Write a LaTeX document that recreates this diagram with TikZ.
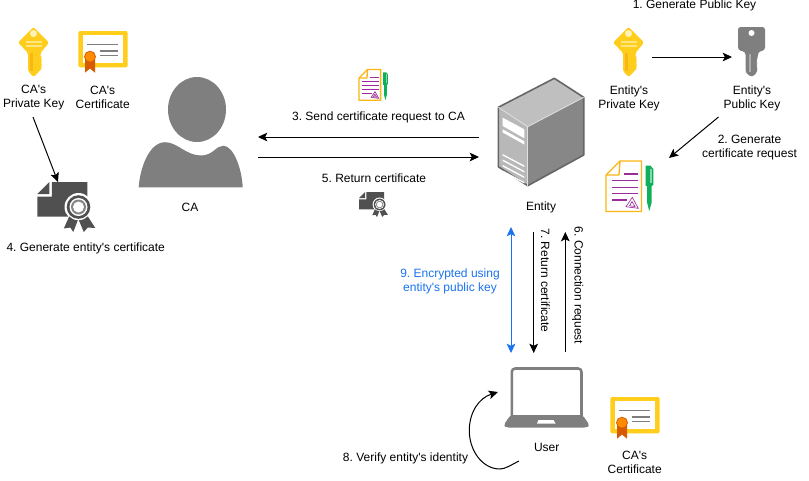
\documentclass[tikz,border=0pt]{standalone}
\usepackage{fontspec}
\setmainfont{Liberation Sans}[Ligatures=TeXOff]
\usetikzlibrary{arrows.meta}
\definecolor{gold}{HTML}{FFCD1C}
\definecolor{goldline}{HTML}{FBB514}
\definecolor{goldpale}{HTML}{FFE680}
\definecolor{goldhole}{HTML}{FFF3B8}
\definecolor{orangeseal}{HTML}{FF8C00}
\definecolor{orangerib}{HTML}{D65A00}
\definecolor{grayicon}{HTML}{7F7F7F}
\definecolor{darkicon}{HTML}{505050}
\definecolor{purpleln}{HTML}{9B2D9B}
\definecolor{greenpen}{HTML}{0FB05A}
\definecolor{blueln}{HTML}{1A73F0}
\tikzset{
  x=0.75pt,y=-0.75pt,
  lbl/.style={font=\fontsize{9}{10.5}\selectfont\frenchspacing,align=center,inner sep=0pt,text=black},
  bluelbl/.style={lbl,text=blueln},
  conn/.style={draw=black,line width=0.75pt,-{Stealth[length=7pt,width=6.5pt,inset=1.6pt]}},
  bluearrow/.style={draw=blueln,line width=0.75pt,{Stealth[length=7pt,width=6.5pt,inset=1.6pt]}-{Stealth[length=7pt,width=6.5pt,inset=1.6pt]}},
  goldkey/.pic={
    \fill[gold,rounded corners=1.2pt] (15.5,0) -- (31,15.5) -- (22.5,26) -- (22.5,30) -- (24.5,32) -- (22.5,34) -- (24.5,36) -- (22.5,38) -- (24.5,40.5) -- (21.5,44) -- (15.5,50) -- (10,44) -- (10,26) -- (0,15.5) -- cycle;
    \fill[goldline] (11.5,26) rectangle (14.5,44);
    \fill[goldpale] (8,13.5) rectangle (24,15.5);
    \fill[goldpale] (8,18) rectangle (24,20);
    \fill[goldhole] (15.5,6.5) circle[radius=3.5];
  },
  graykey/.pic={
    \fill[grayicon,rounded corners=2pt] (0,0) -- (27,0) -- (27,23) -- (20,25) -- (20,31) -- (17.5,33) -- (20,36) -- (17.5,38) -- (20,41) -- (18,47) -- (13.5,50) -- (9,47) -- (7.5,44) -- (7.5,25) -- (0,23) -- cycle;
    \fill[white] (13.5,6) circle[radius=3];
    \fill[white!35!grayicon] (11,27) rectangle (12.5,45);
  },
  certpic/.pic={
    \fill[gold,rounded corners=1.5pt] (0,0) rectangle (49.4,36.3);
    \fill[white] (4.4,4) rectangle (45,32.3);
    \fill[grayicon] (9,12.7) rectangle (40,14.2);
    \fill[grayicon] (21.7,19.2) rectangle (40,20.7);
    \fill[grayicon] (21.7,23.9) rectangle (40,25.4);
    \fill[orangerib] (6.7,28) -- (16.7,28) -- (16.7,41.7) -- (11.7,37.5) -- (6.7,41.7) -- cycle;
    \fill[orangeseal,draw=orangerib,line width=0.6pt] (11.7,25.7) circle[radius=5.5];
  },
  darkcert/.pic={
    \fill[darkicon] (0,12) -- (12,0) -- (12,12) -- cycle;
    \fill[darkicon] (14.5,0) -- (50,0) -- (50,34.7) -- (0,34.7) -- (0,14.5) -- (14.5,14.5) -- cycle;
    \fill[white] (41.2,25) circle[radius=14];
    \fill[white] (26,36) rectangle (34,35);
    \fill[darkicon] (33,32) -- (26.5,46.5) -- (33,45.5) -- (36,50) -- (41,37) -- cycle;
    \fill[darkicon] (49,32) -- (58,46) -- (50.5,45.5) -- (46.5,50) -- (41,37) -- cycle;
    \fill[white] (41.2,25) circle[radius=13.2];
    \fill[darkicon] (41.2,25) circle[radius=11.8];
    \fill[white] (41.2,25) circle[radius=9];
    \fill[darkicon!70] (41.2,25) circle[radius=7.5];
    \fill[white] (41.2,25) circle[radius=5.5];
  },
  docpic/.pic={
    \draw[goldline,line width=1pt,line join=round] (0,14) -- (14,0) -- (35.5,0) -- (35.5,50.5) -- (0,50.5) -- cycle;
    \draw[goldline,line width=1pt,line join=round] (0,14) -- (13,14) -- (14,0);
    \fill[purpleln] (18,12.4) rectangle (32.3,13.6);
    \fill[purpleln] (5.7,18.7) rectangle (32.3,19.9);
    \fill[purpleln] (5.7,25.7) rectangle (32.3,26.9);
    \fill[purpleln] (5.7,32.1) rectangle (32.3,33.3);
    \fill[purpleln] (5.7,38.4) rectangle (20.7,39.6);
    \draw[purpleln,line width=0.5pt] (26.3,36.3) -- (32.3,47.3) -- (20,45.7) -- cycle;
    \draw[purpleln,line width=0.5pt] (26,40.5) -- (29,45.5) -- (23.5,44.8) -- cycle;
    \fill[greenpen] (39.7,4.7) -- (44.5,4.7) -- (47.3,8) -- (47.3,24) -- (45.5,25) -- (45.5,42) -- (43.2,50) -- (41.2,42) -- (41.2,25) -- (39.7,25) -- cycle;
    \fill[white!50!greenpen] (43.8,8) rectangle (46,22);
  },
}
\begin{document}
\begin{tikzpicture}
\useasboundingbox[fill=white] (0,0) rectangle (809,480);

% icons
\pic at (18,27) {goldkey};
\pic at (78.3,31) {certpic};
\pic at (613,27) {goldkey};
\pic at (738,27) {graykey};
\pic at (610.3,397) {certpic};
\pic at (606,161) {docpic};
\pic[scale=0.61] at (359,69.5) {docpic};
\pic at (37.3,182) {darkcert};
\pic[scale=0.5] at (359,192) {darkcert};

% CA person
\fill[grayicon] (197,109.5) ellipse[x radius=29,y radius=32.5];
\fill[grayicon] (138.7,187.3) .. controls (140,168) and (149,142.5) .. (165,142.2)
   .. controls (177,142) and (186,155.5) .. (201,155.5)
   .. controls (213,155.5) and (216,145.7) .. (223.3,145.7)
   .. controls (234,146) and (242,170) .. (242.7,187.3) -- cycle;

% server
\fill[white!72!black] (498.3,107.3) -- (527.7,126.7) -- (527.7,185.7) -- (498.3,166.7) -- cycle;
\fill[white!53!black] (527.7,126.7) -- (583.7,97.3) -- (583.7,155) -- (527.7,185.7) -- cycle;
\fill[white!75!black] (498.3,107.3) -- (554.3,78.3) -- (583.7,97.3) -- (527.7,126.7) -- cycle;
\draw[white!40!black,line width=1.2pt,line join=round] (498.3,107.3) -- (554.3,78.3) -- (583.7,97.3) -- (583.7,155) -- (527.7,185.7) -- (498.3,166.7) -- cycle;
\draw[white!88!black,line width=0.6pt] (498.3,107.3) -- (527.7,126.7) -- (583.7,97.3);
\draw[white!88!black,line width=0.6pt] (527.7,126.7) -- (527.7,185.7);
\fill[white] (502.7,117.7) -- (524.3,129.3) -- (524.3,138.3) -- (502.7,126) -- cycle;
\fill[white] (502.7,129.3) -- (524.3,141.3) -- (524.3,144.5) -- (502.7,132.5) -- cycle;
\foreach \yy in {0,1,2,3}{
  \fill[white] (502.7,{154+\yy*5.5}) -- (524.3,{165.5+\yy*5.5}) -- (524.3,{167+\yy*5.5}) -- (502.7,{155.5+\yy*5.5}) -- cycle;
}

% laptop
\draw[grayicon,line width=1.9pt,rounded corners=2.5pt] (511.8,416) -- (511.8,368.5) -- (581.5,368.5) -- (581.5,416);
\fill[grayicon,rounded corners=2pt] (510.5,415) -- (582.5,415) -- (589.5,425) -- (587,427.5) -- (506,427.5) -- (503.7,425) -- cycle;
\fill[white] (538.5,420) -- (553.5,420) -- (555.5,423.5) -- (537,423.5) -- cycle;

% labels
\node[lbl] (l1) at (694.5,5.5) {1. Generate Public Key};
\node[lbl] (caPriv) at (33.7,97.7) {CA's\\Private Key};
\node[lbl] (caCert) at (102.7,97.7) {CA's\\Certificate};
\node[lbl] (enPriv) at (629,98) {Entity's\\Private Key};
\node[lbl] (enPub) at (752,98) {Entity's\\Public Key};
\node[lbl] (l2) at (749.5,148) {2. Generate\\certificate request};
\node[lbl] (l3) at (378.5,117.5) {3. Send certificate request to CA};
\node[lbl] (l5) at (374,178) {5. Return certificate};
\node[lbl] (ca) at (190,207.5) {CA};
\node[lbl] (entity) at (541,207.5) {Entity};
\node[lbl] (l4) at (85.7,248) {4. Generate entity's certificate};
\node[bluelbl] (l9) at (450,281) {9. Encrypted using\\entity's public key};
\node[lbl,rotate=-90] (l7) at (545.5,280.5) {7. Return certificate};
\node[lbl,rotate=-90] (l6) at (577.7,285.5) {6. Connection request};
\node[lbl] (user) at (546.7,447.7) {User};
\node[lbl] (caCert2) at (634.7,462) {CA's\\Certificate};
\node[lbl] (l8) at (405.5,458) {8. Verify entity's identity};

% connector ends
\coordinate (a1) at (33,117);
\coordinate (a2) at (58,182);
\coordinate (b1) at (652,57);
\coordinate (b2) at (732,57);
\coordinate (c1) at (718.5,117);
\coordinate (c2) at (669,158);
\coordinate (d1) at (479,137);
\coordinate (d2) at (258,137);
\coordinate (e1) at (258,157);
\coordinate (e2) at (479,157);
\coordinate (f1) at (511,227);
\coordinate (f2) at (511,353);
\coordinate (g1) at (533.7,232);
\coordinate (g2) at (533.7,353);
\coordinate (h1) at (565.3,352);
\coordinate (h2) at (565.3,232);
\coordinate (i1) at (519,461);
\coordinate (i2) at (498,392);

\draw[conn] (a1) -- (a2);
\draw[conn] (b1) -- (b2);
\draw[conn] (c1) -- (c2);
\draw[conn] (d1) -- (d2);
\draw[conn] (e1) -- (e2);
\draw[bluearrow] (f1) -- (f2);
\draw[conn] (g1) -- (g2);
\draw[conn] (h1) -- (h2);
\draw[conn] (i1) .. controls (511,465) and (505,469) .. (500,469)
   .. controls (482,469) and (469,450) .. (469.3,430)
   .. controls (469.5,412) and (479,398) .. (i2);
\end{tikzpicture}
\end{document}
